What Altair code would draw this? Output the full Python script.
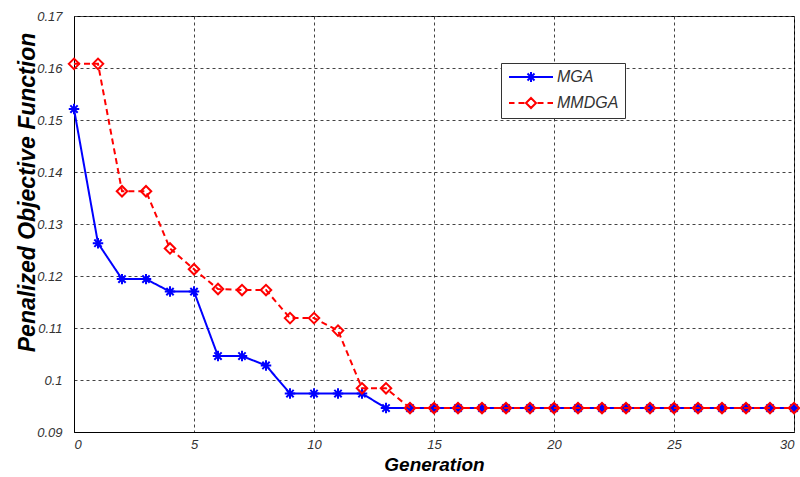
import altair as alt
import pandas as pd

generations = [0, 1, 2, 3, 4, 5, 6, 7, 8, 9, 10, 11, 12, 13, 14, 15, 16, 17, 18, 19, 20,
               21, 22, 23, 24, 25, 26, 27, 28, 29, 30]
mga = [0.1521, 0.1263, 0.1194, 0.1194, 0.1170, 0.1170, 0.1046, 0.1046, 0.1028, 0.0974,
       0.0974, 0.0974, 0.0974, 0.0946, 0.0946, 0.0946, 0.0946, 0.0946, 0.0946, 0.0946,
       0.0946, 0.0946, 0.0946, 0.0946, 0.0946, 0.0946, 0.0946, 0.0946, 0.0946, 0.0946, 0.0946]
mmdga = [0.1608, 0.1608, 0.1363, 0.1363, 0.1253, 0.1213, 0.1175, 0.1173, 0.1173, 0.1119,
         0.1119, 0.1095, 0.0984, 0.0984, 0.0946, 0.0946, 0.0946, 0.0946, 0.0946, 0.0946,
         0.0946, 0.0946, 0.0946, 0.0946, 0.0946, 0.0946, 0.0946, 0.0946, 0.0946, 0.0946, 0.0946]
series_names = ["MGA", "MMDGA"]
series_colors = ["#0000ff", "#ff0000"]
x_ticks = [0, 5, 10, 15, 20, 25, 30]
y_ticks = [0.09, 0.1, 0.11, 0.12, 0.13, 0.14, 0.15, 0.16, 0.17]

df = pd.DataFrame({
    "gen": generations + generations,
    "value": mga + mmdga,
    "series": ["MGA"] * len(generations) + ["MMDGA"] * len(generations),
})

FONT = "Liberation Sans"
ASTERISK = "M-1,0L1,0M0,-1L0,1M-0.7,-0.7L0.7,0.7M-0.7,0.7L0.7,-0.7"
LEG_MGA = "M-4.4,0L4.4,0M0,-1L0,1M-0.7,-0.7L0.7,0.7M-0.7,0.7L0.7,-0.7"
LEG_MMDGA = ("M-4.4,0L-3.3,0M-2.5,0L-1.3,0M1.3,0L2.5,0M3.3,0L4.4,0"
             "M0,-1L1,0L0,1L-1,0Z")
marker_of = {"MGA": ASTERISK, "MMDGA": "diamond"}
dash_of = {"MGA": [1, 0], "MMDGA": [6, 4]}

x_enc = alt.X("gen:Q", scale=alt.Scale(domain=[0, 30], nice=False),
              axis=alt.Axis(values=x_ticks, title="Generation", titleFont=FONT,
                            titleFontSize=19, titleFontWeight="bold", titleFontStyle="italic",
                            titleColor="#000000", titleY=32, titleBaseline="middle",
                            labelFont=FONT, labelFontSize=13, labelFontStyle="italic",
                            labelColor="#333333", labelPadding=6, ticks=False,
                            domainColor="#000000", gridColor="#444444", gridDash=[3, 3],
                            gridOpacity=1, labelOverlap=False))
y_enc = alt.Y("value:Q", scale=alt.Scale(domain=[0.09, 0.17], nice=False, zero=False),
              axis=alt.Axis(values=y_ticks, format="~g", title="Penalized Objective Function",
                            titleFont=FONT, titleFontSize=23, titleFontWeight="bold",
                            titleFontStyle="italic", titleColor="#000000", titleAngle=-90,
                            titleX=-47, titleY=176, titleBaseline="middle", titleAlign="center",
                            labelFont=FONT, labelFontSize=13, labelFontStyle="italic",
                            labelColor="#333333", labelPadding=12, ticks=False,
                            domainColor="#000000", gridColor="#444444", gridDash=[3, 3],
                            gridOpacity=1, labelOverlap=False))

legend = alt.Legend(
    title=None, orient="none", legendX=427, legendY=47,
    fillColor="#ffffff", strokeColor="#333333", padding=6,
    labelFont=FONT, labelFontSize=16, labelFontStyle="italic", labelColor="#333333",
    symbolSize=100, symbolStrokeWidth=2, symbolOffset=16, labelOffset=18, rowPadding=8,
    symbolFillColor="transparent",
    symbolType={"expr": "datum.value === 'MGA' ? '" + LEG_MGA + "' : '" + LEG_MMDGA + "'"},
)

color_scale = alt.Scale(domain=series_names, range=series_colors)

base = alt.Chart(df)


def line_layer(name, with_legend):
    return base.transform_filter(alt.datum.series == name).mark_line(
        strokeWidth=2, strokeDash=dash_of[name]).encode(
        x=x_enc, y=y_enc,
        color=alt.Color("series:N", scale=color_scale, legend=legend if with_legend else None),
    )


def point_layer(name):
    return base.transform_filter(alt.datum.series == name).mark_point(
        filled=False, strokeWidth=2, size=110, opacity=1, shape=marker_of[name]).encode(
        x=x_enc, y=y_enc,
        color=alt.Color("series:N", scale=color_scale, legend=None),
    )


chart = alt.layer(
    line_layer("MGA", True), point_layer("MGA"),
    line_layer("MMDGA", False), point_layer("MMDGA"),
).properties(
    width=720, height=416,
    autosize=alt.AutoSizeParams(type="none"),
    padding={"left": 74, "top": 16, "right": 6, "bottom": 45},
    background="#ffffff",
).configure_view(stroke="#000000", strokeWidth=1)

chart.save("out.html", embed_options={"renderer": "svg", "actions": False})
